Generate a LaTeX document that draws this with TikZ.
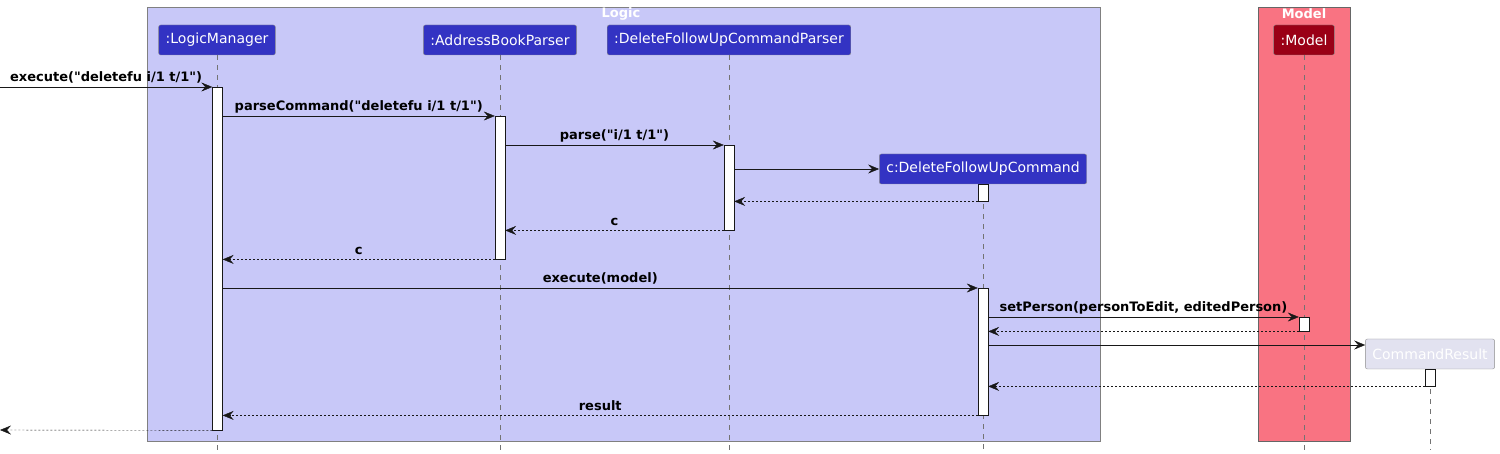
\documentclass[tikz,border=0pt]{standalone}
\usepackage{fontspec}
\setmainfont{DejaVu Sans}
\usetikzlibrary{arrows.meta}

\definecolor{logicbg}{RGB}{200,200,248}
\definecolor{modelbg}{RGB}{249,115,130}
\definecolor{partblue}{RGB}{51,51,195}
\definecolor{partred}{RGB}{154,0,22}
\definecolor{resultbg}{RGB}{226,226,240}
\definecolor{lineclr}{RGB}{24,24,24}

\newcommand{\q}{\textquotedbl}

\begin{document}
\begin{tikzpicture}[x=1pt,y=-1pt]

	\tikzset{
	  part/.style={
		draw=black!45,
		fill=partblue,
		text=white,
		rounded corners=2pt,
		inner xsep=7pt,
		minimum height=30pt,
		font=\fontsize{14}{16}\selectfont,
	  },
	  act/.style={
		draw=lineclr,
		fill=white,
		minimum width=10pt,
		inner sep=0pt,
		anchor=north,
	  },
	  life/.style={color=black!55, dash pattern=on 5pt off 5pt},
	  msg/.style={color=lineclr, -{Stealth[length=11pt,width=9pt,inset=4pt]}},
	  ret/.style={msg, dash pattern=on 2pt off 2pt},
	  lbl/.style={midway, anchor=base, yshift=5pt, inner sep=0pt, text=black, font=\fontsize{13}{15}\selectfont\bfseries},
	  grouplbl/.style={text=white, font=\fontsize{13}{15}\selectfont\bfseries},
	}
	\useasboundingbox (0,0) rectangle (1500,454);

	% boxes
	\draw[draw=black!50, fill=logicbg] (147,7) rectangle (1100,441);
	\draw[draw=black!60, fill=modelbg] (1258,7) rectangle (1350,441);
	\node[grouplbl] (logiclbl) at (621,14) {Logic};
	\node[grouplbl] (modellbl) at (1304,14) {Model};

	% participants
	\node[part] (lm) at (217,40) {:LogicManager};
	\node[part] (abp) at (500,40) {:AddressBookParser};
	\node[part] (dp) at (729,40) {:DeleteFollowUpCommandParser};
	\node[part] (dc) at (983,169) {c:DeleteFollowUpCommand};
	\node[part, fill=partred] (mdl) at (1304,40) {:Model};
	\node[part, fill=resultbg, text=white] (cr) at (1430,354) {CommandResult};

	% lifelines
	\draw[life] (lm.south) -- (lm.south |- 0,450);
	\draw[life] (abp.south) -- (abp.south |- 0,450);
	\draw[life] (dp.south) -- (dp.south |- 0,450);
	\draw[life] (dc.south) -- (dc.south |- 0,450);
	\draw[life] (mdl.south) -- (mdl.south |- 0,450);
	\draw[life] (cr.south) -- (cr.south |- 0,450);

	% activations
	\node[act, minimum height=343pt] (lm1) at (217.5,87) {};
	\node[act, minimum height=143pt] (abp1) at (500,116) {};
	\node[act, minimum height=85pt] (dp1) at (729,145) {};
	\node[act, minimum height=17pt] (dc1) at (983,184) {};
	\node[act, minimum height=127pt] (dc2) at (983,288) {};
	\node[act, minimum height=14pt] (mdl1) at (1304,317) {};
	\node[act, minimum height=17pt] (cr1) at (1430,369) {};
	\coordinate (caller) at (0,87);
	\coordinate (back) at (0,430);

	% messages
	\draw[msg] (caller) -- (lm1.north west) node[lbl] {execute(\q deletefu i/1 t/1\q)};
	\draw[msg] (lm1.east |- abp1.north) -- (abp1.north west) node[lbl] {parseCommand(\q deletefu i/1 t/1\q)};
	\draw[msg] (abp1.east |- dp1.north) -- (dp1.north west) node[lbl] {parse(\q i/1 t/1\q)};
	\draw[msg] (dp1.east |- dc.west) -- (dc.west);
	\draw[ret] (dc1.south west) -- (dp1.east |- dc1.south);
	\draw[ret] (dp1.south west) -- (abp1.east |- dp1.south) node[lbl] {c};
	\draw[ret] (abp1.south west) -- (lm1.east |- abp1.south) node[lbl] {c};
	\draw[msg] (lm1.east |- dc2.north) -- (dc2.north west) node[lbl] {execute(model)};
	\draw[msg] (dc2.east |- mdl1.north) -- (mdl1.north west) node[lbl] {setPerson(personToEdit, editedPerson)};
	\draw[ret] (mdl1.south west) -- (dc2.east |- mdl1.south);
	\draw[msg] (dc2.east |- 0,345) -- (cr.west |- 0,345);
	\draw[ret] (cr1.south west) -- (dc2.east |- cr1.south);
	\draw[ret] (dc2.south west) -- (lm1.east |- dc2.south) node[lbl] {result};
	\draw[ret] (lm1.south west) -- (back);

\end{tikzpicture}
\end{document}
